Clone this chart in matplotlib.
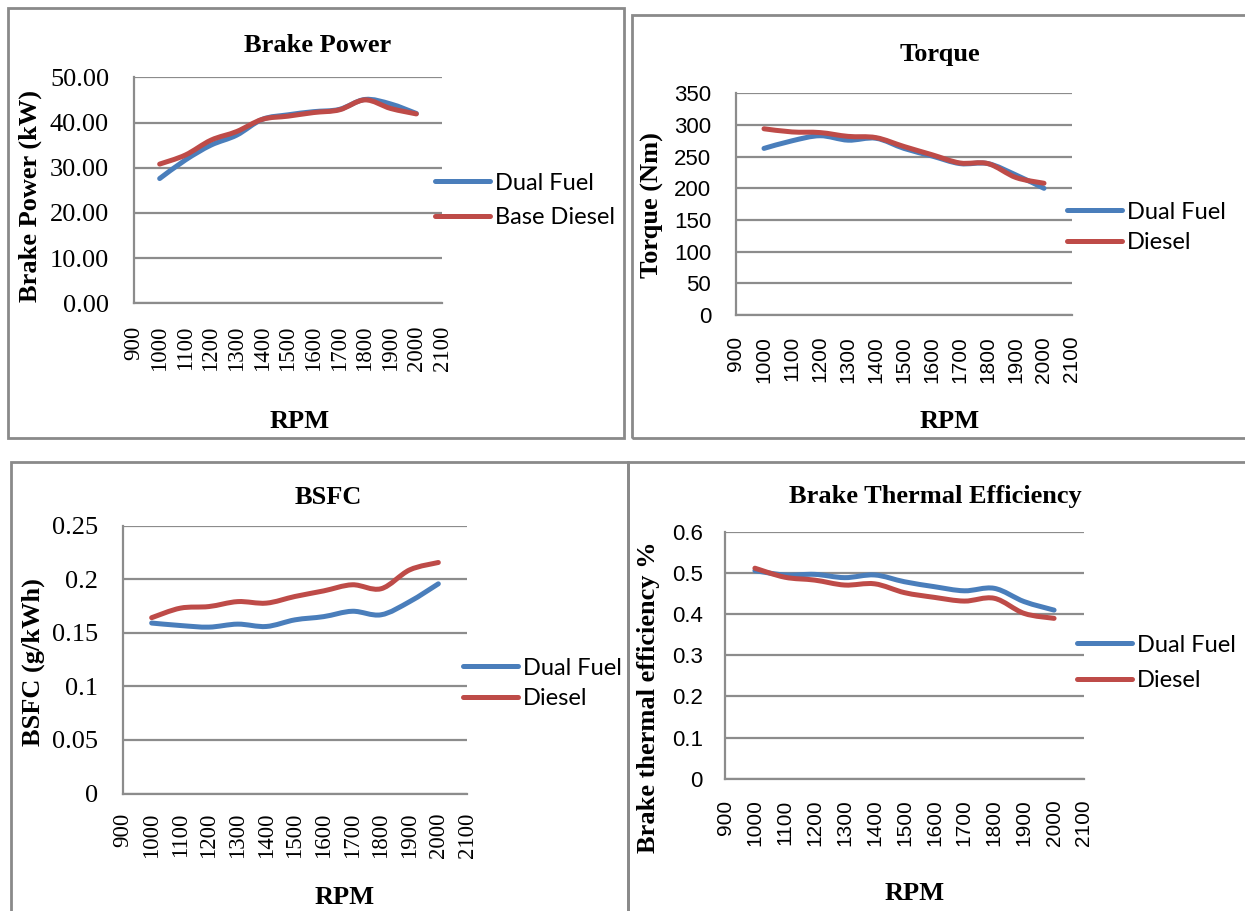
import numpy as np
import matplotlib
matplotlib.use('Agg')
import matplotlib.pyplot as plt
from matplotlib.path import Path
from matplotlib.patches import PathPatch, Rectangle
from matplotlib.lines import Line2D

W, H = 1245, 911

rpm = [1000, 1100, 1200, 1300, 1400, 1500, 1600, 1700, 1800, 1900, 2000]
x_ticks = [900, 1000, 1100, 1200, 1300, 1400, 1500, 1600, 1700, 1800, 1900, 2000, 2100]

bp_dual = [27.6, 31.7, 35.0, 37.2, 40.7, 41.7, 42.4, 42.9, 45.1, 44.1, 42.0]
bp_diesel = [30.8, 32.8, 36.1, 38.0, 40.7, 41.4, 42.2, 42.8, 45.0, 43.1, 41.9]

tq_dual = [263, 275, 283, 276, 279, 263, 251, 239, 239, 221, 200]
tq_diesel = [294, 289, 288, 282, 280, 266, 253, 240, 239, 217, 208]

bsfc_dual = [0.159, 0.1567, 0.1552, 0.158, 0.1558, 0.162, 0.165, 0.170, 0.1667, 0.179, 0.1956]
bsfc_diesel = [0.164, 0.1729, 0.1744, 0.179, 0.1776, 0.1838, 0.189, 0.1947, 0.191, 0.2086, 0.2155]

bte_dual = [0.506, 0.4955, 0.497, 0.489, 0.4955, 0.479, 0.467, 0.457, 0.463, 0.4307, 0.410]
bte_diesel = [0.512, 0.490, 0.483, 0.471, 0.474, 0.4525, 0.441, 0.432, 0.4388, 0.402, 0.390]

bp_ticks = [0, 10, 20, 30, 40, 50]
tq_ticks = [0, 50, 100, 150, 200, 250, 300, 350]
bsfc_ticks = [0, 0.05, 0.1, 0.15, 0.2, 0.25]
bsfc_labels = ['0', '0.05', '0.1', '0.15', '0.2', '0.25']
bte_ticks = [0, 0.1, 0.2, 0.3, 0.4, 0.5, 0.6]
bte_labels = ['0', '0.1', '0.2', '0.3', '0.4', '0.5', '0.6']

BLUE = '#4a7ebb'
RED = '#be4b48'
GRID = '#8c8c8c'
SERIF = 'Liberation Serif'
SANS = 'Liberation Sans'
LEG = 'Lato'
BOLD = 19

fig = plt.figure(figsize=(W / 100, H / 100), dpi=100)


def add_ax(l, t, r, b):
    return fig.add_axes([l / W, 1 - b / H, (r - l) / W, (b - t) / H])


def smooth(ax, x, y, color):
    x = np.asarray(x, float)
    y = np.asarray(y, float)
    n = len(x)
    verts = [(x[0], y[0])]
    codes = [Path.MOVETO]
    for i in range(n - 1):
        i0 = max(i - 1, 0)
        i3 = min(i + 2, n - 1)
        c1 = (x[i] + (x[i + 1] - x[i0]) / 6, y[i] + (y[i + 1] - y[i0]) / 6)
        c2 = (x[i + 1] - (x[i3] - x[i]) / 6, y[i + 1] - (y[i3] - y[i]) / 6)
        verts += [c1, c2, (x[i + 1], y[i + 1])]
        codes += [Path.CURVE4] * 3
    ax.add_patch(PathPatch(Path(verts, codes), fill=False, edgecolor=color,
                           lw=3.6, capstyle='round', joinstyle='round', zorder=3))


def style(ax, ylim, yticks, ylabels, fam, xsize, ysize, xpad, ypad):
    ax.set_xlim(900, 2100)
    ax.set_ylim(*ylim)
    ax.set_xticks(x_ticks)
    ax.set_xticklabels([str(v) for v in x_ticks], rotation=90, va='top', ha='center',
                       fontfamily=fam, fontsize=xsize)
    ax.set_yticks(yticks)
    ax.set_yticklabels(ylabels, fontfamily=fam, fontsize=ysize)
    ax.tick_params(axis='both', length=0)
    ax.tick_params(axis='x', pad=xpad)
    ax.tick_params(axis='y', pad=ypad)
    for s in ['top', 'right']:
        ax.spines[s].set_visible(False)
    for s in ['left', 'bottom']:
        ax.spines[s].set_color(GRID)
        ax.spines[s].set_linewidth(1.6)
    ax.grid(axis='y', color=GRID, lw=1.6)
    ax.grid(axis='x', visible=False)
    ax.set_axisbelow(True)
    ax.patch.set_alpha(0)


def legend(ax, labels, x0, yc, spacing):
    handles = [Line2D([], [], color=BLUE, lw=3.6, solid_capstyle='round'),
               Line2D([], [], color=RED, lw=3.6, solid_capstyle='round')]
    ax.legend(handles, labels, loc='center left',
              bbox_to_anchor=(x0 / W, 1 - yc / H), bbox_transform=fig.transFigure,
              frameon=False, borderpad=0, borderaxespad=0, handlelength=2.35,
              handletextpad=0.2, labelspacing=spacing,
              prop={'family': LEG, 'size': 17})


def box(l, t, r, b):
    fig.patches.append(Rectangle((l / W, 1 - b / H), (r - l) / W, (b - t) / H,
                                 transform=fig.transFigure, fill=False,
                                 edgecolor='#8a8a8a', lw=2, zorder=0))


def label(x, y, s, rot=0):
    fig.text(x / W, 1 - y / H, s, ha='center', va='center', rotation=rot,
             fontfamily=SERIF, fontweight='bold', fontsize=BOLD)


box(8, 8, 624, 438)
box(632, 15, 1260, 438)
box(11, 462, 628, 925)
box(628, 462, 1260, 925)

# Panel 1: Brake Power
ax1 = add_ax(134, 77.3, 442, 303.3)
style(ax1, (0, 50), bp_ticks, ['%.2f' % v for v in bp_ticks], SERIF, 16.5, 19, 16, 18)
smooth(ax1, rpm, bp_dual, BLUE)
smooth(ax1, rpm, bp_diesel, RED)
legend(ax1, ['Dual Fuel', 'Base Diesel'], 435, 200.5, 0.58)
label(318, 46, 'Brake Power')
label(30, 196, 'Brake Power (kW)', 90)
label(300, 422, 'RPM')

# Panel 2: Torque
ax2 = add_ax(736, 93.3, 1072, 315)
style(ax2, (0, 350), tq_ticks, [str(v) for v in tq_ticks], SANS, 15, 16, 15, 18)
smooth(ax2, rpm, tq_dual, BLUE)
smooth(ax2, rpm, tq_diesel, RED)
legend(ax2, ['Dual Fuel', 'Diesel'], 1067, 227.5, 0.41)
label(940, 55, 'Torque')
label(652, 205, 'Torque (Nm)', 90)
label(950, 422, 'RPM')

# Panel 3: BSFC
ax3 = add_ax(123, 525.5, 467, 793.5)
style(ax3, (0, 0.25), bsfc_ticks, bsfc_labels, SERIF, 16.5, 19, 14, 18)
smooth(ax3, rpm, bsfc_dual, BLUE)
smooth(ax3, rpm, bsfc_diesel, RED)
legend(ax3, ['Dual Fuel', 'Diesel'], 463, 683.5, 0.41)
label(328, 498, 'BSFC')
label(33, 662, 'BSFC (g/kWh)', 90)
label(345, 897, 'RPM')

# Panel 4: Brake Thermal Efficiency
ax4 = add_ax(725, 532, 1084, 778.7)
style(ax4, (0, 0.6), bte_ticks, bte_labels, SANS, 15, 16, 15, 16)
smooth(ax4, rpm, bte_dual, BLUE)
smooth(ax4, rpm, bte_diesel, RED)
legend(ax4, ['Dual Fuel', 'Diesel'], 1077, 663, 0.62)
label(935, 497, 'Brake Thermal Efficiency')
label(648, 697, 'Brake thermal efficiency %', 90)
label(915, 893, 'RPM')

fig.savefig('out.png', dpi=100)
